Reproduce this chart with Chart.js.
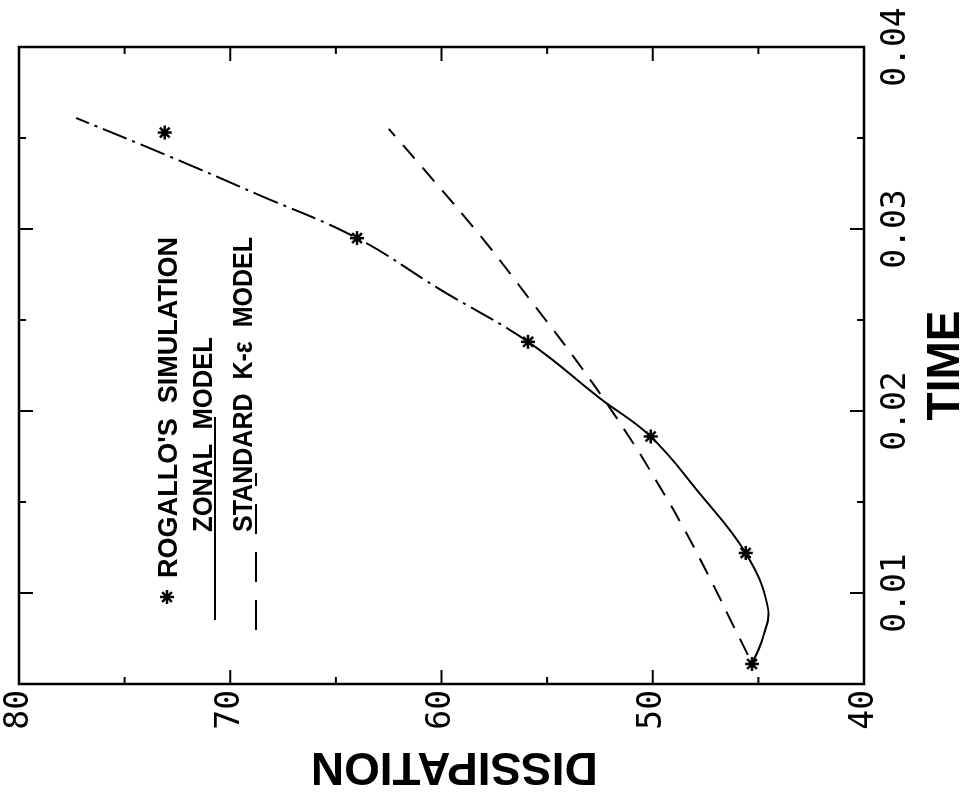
<!DOCTYPE html>
<html>
<head>
<meta charset="utf-8">
<script src="https://cdn.jsdelivr.net/npm/chart.js@4.4.1/dist/chart.umd.min.js"></script>
<style>
  html, body { margin: 0; padding: 0; background: #fff; overflow: hidden; }
  /* the plot is printed sideways, so the canvas is drawn upright and turned a quarter left */
  #wrap {
    position: absolute; left: 0; top: 0;
    width: 798px; height: 964px;
    transform-origin: 0 0;
    transform: translateY(798px) rotate(-90deg);
  }
</style>
</head>
<body>
<div id="wrap"><canvas id="chart" width="798" height="964"></canvas></div>
<script>
// Rogallo's simulation (stars)
var rogalloTime = [0.0061, 0.0122, 0.0186, 0.0238, 0.0295, 0.0353];
var rogalloDiss = [45.3, 45.6, 50.1, 55.9, 64.0, 73.1];

// zonal model (solid, dash-dot further up)
var zonalTime = [0.0061, 0.0075, 0.0092, 0.0122, 0.0155, 0.0186, 0.0207, 0.0238, 0.0267, 0.0295, 0.0319, 0.0340, 0.0361];
var zonalDiss = [45.3, 44.8, 44.55, 45.6, 47.8, 50.1, 52.5, 55.9, 60.1, 64.0, 68.7, 72.9, 77.3];
var zonalDashFrom = 0.021;

// standard k-epsilon model (dashed)
var kepsTime = [0.0066, 0.0124, 0.0163, 0.0196, 0.0229, 0.0261, 0.0294, 0.0327, 0.0355];
var kepsDiss = [45.5, 48.0, 49.9, 51.7, 53.7, 55.8, 58.0, 60.4, 62.5];

// axis ticks
var timeTicks = [0.01, 0.02, 0.03, 0.04];
var timeMinorTicks = [0.015, 0.025, 0.035];
var dissTicks = [40, 50, 60, 70, 80];
var dissMinorTicks = [45, 55, 65, 75];

function toPoints(xs, ys) {
    return xs.map(function (v, i) { return { x: v, y: ys[i] }; });
}

function line(ctx, x1, y1, x2, y2) {
    ctx.beginPath();
    ctx.moveTo(x1, y1);
    ctx.lineTo(x2, y2);
    ctx.stroke();
}

function drawStar(ctx, x, y, r) {
    for (var k = 0; k < 4; k++) {
        var a = k * Math.PI / 4;
        line(ctx, x - r * Math.cos(a), y - r * Math.sin(a), x + r * Math.cos(a), y + r * Math.sin(a));
    }
}

// box round the plot with inward ticks on all four sides
var frameTicks = {
    id: 'frameTicks',
    afterDraw: function (chart) {
        var ctx = chart.ctx, a = chart.chartArea;
        var xs = chart.scales.x, ys = chart.scales.y;
        ctx.save();
        ctx.strokeStyle = '#000';
        ctx.lineWidth = 2.5;
        ctx.strokeRect(a.left, a.top, a.right - a.left, a.bottom - a.top);
        ctx.lineWidth = 2;
        function tx(v, len) {
            var p = xs.getPixelForValue(v);
            line(ctx, p, a.bottom, p, a.bottom - len);
            line(ctx, p, a.top, p, a.top + len);
        }
        function ty(v, len) {
            var p = ys.getPixelForValue(v);
            line(ctx, a.left, p, a.left + len, p);
            line(ctx, a.right, p, a.right - len, p);
        }
        timeTicks.forEach(function (v) { tx(v, 14); });
        timeMinorTicks.forEach(function (v) { tx(v, 7); });
        dissTicks.forEach(function (v) { ty(v, 14); });
        dissMinorTicks.forEach(function (v) { ty(v, 7); });
        ctx.restore();
    }
};

// old style key written inside the plot
var keyText = {
    id: 'keyText',
    afterDraw: function (chart) {
        var ctx = chart.ctx;
        ctx.save();
        ctx.fillStyle = '#000';
        ctx.strokeStyle = '#000';
        ctx.font = 'bold 27px "Liberation Sans Narrow", "Liberation Sans", Arial, sans-serif';
        ctx.textBaseline = 'alphabetic';
        function fitText(t, x, y, w) {
            var m = ctx.measureText(t).width;
            ctx.save();
            ctx.translate(x, y);
            ctx.scale(w / m, 1);
            ctx.fillText(t, 0, 0);
            ctx.restore();
        }
        ctx.lineWidth = 2.5;
        drawStar(ctx, 201, 167, 7);
        fitText("ROGALLO'S  SIMULATION", 220, 177, 341);

        fitText('ZONAL  MODEL', 266, 212, 195);
        ctx.lineWidth = 2;
        line(ctx, 178, 215, 381, 215);

        fitText('STANDARD  K-\u03b5  MODEL', 266, 252, 295);
        ctx.setLineDash([30, 18]);
        line(ctx, 168, 256, 325, 256);
        ctx.restore();
    }
};

var ctx = document.getElementById('chart').getContext('2d');
var myChart = new Chart(ctx, {
    type: 'scatter',
    data: {
        datasets: [{
            label: "Rogallo's simulation",
            data: toPoints(rogalloTime, rogalloDiss),
            showLine: false,
            pointStyle: 'star',
            pointRadius: 7,
            pointBorderWidth: 2.5,
            borderColor: '#000',
            backgroundColor: '#000'
        },
        {
            label: 'Zonal model',
            data: toPoints(zonalTime, zonalDiss),
            showLine: true,
            pointRadius: 0,
            borderColor: '#000',
            borderWidth: 2,
            tension: 0.4,
            segment: {
                borderDash: function (c) { return c.p0.parsed.x >= zonalDashFrom ? [26, 6, 3, 6] : undefined; }
            }
        },
        {
            label: 'Standard K-\u03b5 model',
            data: toPoints(kepsTime, kepsDiss),
            showLine: true,
            pointRadius: 0,
            borderColor: '#000',
            borderWidth: 2,
            borderDash: [18, 12],
            tension: 0.4
        }]
    },
    options: {
        responsive: false,
        animation: false,
        events: [],
        layout: { padding: { left: 0, top: 19, right: 47, bottom: 0 } },
        plugins: { legend: { display: false }, tooltip: { enabled: false } },
        scales: {
            x: {
                type: 'linear',
                position: 'bottom',
                min: 0.005,
                max: 0.04,
                grid: { display: false, drawTicks: false },
                border: { display: false },
                afterBuildTicks: function (s) { s.ticks = timeTicks.map(function (v) { return { value: v }; }); },
                afterFit: function (s) { s.height = 100; s.paddingLeft = 0; s.paddingRight = 0; },
                ticks: {
                    color: '#000',
                    padding: 16,
                    maxRotation: 0,
                    font: { family: '"DejaVu Sans Mono", monospace', size: 33, lineHeight: 1 },
                    callback: function (v) { return v.toFixed(2); }
                },
                title: {
                    display: true,
                    text: 'TIME',
                    color: '#000',
                    font: { family: '"Liberation Sans", Arial, sans-serif', weight: 'bold', size: 46, lineHeight: 1 },
                    padding: { top: 0, bottom: -5 }
                }
            },
            y: {
                type: 'linear',
                position: 'left',
                min: 40,
                max: 80,
                grid: { display: false, drawTicks: false },
                border: { display: false },
                afterBuildTicks: function (s) { s.ticks = dissTicks.map(function (v) { return { value: v }; }); },
                afterFit: function (s) { s.width = 114; s.paddingTop = 0; s.paddingBottom = 0; },
                ticks: {
                    color: '#000',
                    padding: 6,
                    font: { family: '"DejaVu Sans Mono", monospace', size: 33, lineHeight: 1 }
                },
                title: {
                    display: true,
                    text: 'DISSIPATION  ',
                    color: '#000',
                    font: { family: '"Liberation Sans", Arial, sans-serif', weight: 'bold', size: 46, lineHeight: 1 },
                    padding: { top: 9, bottom: 0 }
                }
            }
        }
    },
    plugins: [frameTicks, keyText]
});
</script>
</body>
</html>
